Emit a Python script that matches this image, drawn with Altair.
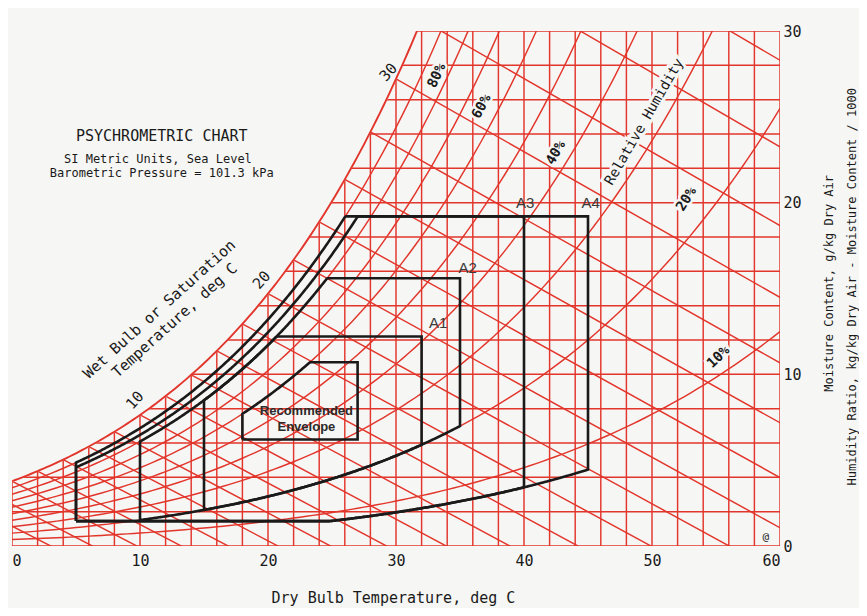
import numpy as np
import pandas as pd
import altair as alt

# ---------------- data ----------------
P_ATM = 101.325  # kPa, sea level
# saturation vapour pressure table (kPa) used by the chart
sat_temp = [-4, -2, 0, 2, 4, 6, 8, 10, 12, 14, 16, 18, 20, 22, 24, 26, 28, 30,
            32, 34, 36, 38, 40, 42, 44, 46, 48, 50, 52, 54, 56, 58, 60]
sat_kpa = [0.4375, 0.5177, 0.6112, 0.7060, 0.8135, 0.9353, 1.0730, 1.2282,
           1.4028, 1.5989, 1.8188, 2.0647, 2.3392, 2.6452, 2.9856, 3.3637,
           3.7828, 4.2467, 4.7592, 5.3247, 5.9479, 6.6335, 7.3844, 8.2090,
           9.1118, 10.099, 11.177, 12.352, 13.631, 15.022, 16.533, 18.171, 19.946]

rh_levels = [0.1, 0.2, 0.3, 0.4, 0.5, 0.6, 0.7, 0.8, 0.9]
wb_temps = [-4, -2, 0, 2, 4, 6, 8, 10, 12, 14, 16, 18, 20, 22, 24, 26, 28, 30, 32, 34, 36]
vert_temps = list(range(0, 61, 2))
horiz_w = list(range(0, 31, 2))
x_ticks = [0, 10, 20, 30, 40, 50, 60]
y_ticks = [0, 10, 20, 30]

# envelopes: name, Tmin, Tmax, RH low, RH high, W low, W high
env_names = ["A1", "A2", "A3", "A4", "Rec"]
env_tmin = [15, 10, 5, 5, 18]
env_tmax = [32, 35, 40, 45, 27]
env_rh_lo = [0.20, 0.20, 0.075, 0.075, 0.0]
env_rh_hi = [0.80, 0.80, 0.85, 0.90, 0.60]
env_w_lo = [0.0, 0.0, 1.45, 1.45, 6.2]
env_w_hi = [12.2, 15.6, 19.2, 19.2, 10.7]

# labels
rh_lab_text = ["80%", "60%", "40%", "20%", "10%"]
rh_lab_t = [33.2, 36.7, 42.5, 52.7, 55.2]
rh_lab_w = [27.4, 25.6, 22.9, 20.2, 11.0]
rh_lab_ang = [295, 298, 300, 302, 316]

wb_lab_text = ["10", "20", "30"]
wb_lab_t = [9.6, 19.5, 29.4]
wb_lab_w = [8.5, 15.5, 27.6]

cls_lab_text = ["A1", "A2", "A3", "A4"]
cls_lab_t = [33.3, 35.6, 40.1, 45.2]
cls_lab_w = [13.0, 16.2, 20.0, 20.0]
rec_lab_text = ["Recommended", "Envelope"]
rec_lab_t = [23.0, 23.0]
rec_lab_w = [7.85, 6.95]

FONT = "DejaVu Sans Mono"
RED = "#e2352b"
BLACK = "#1a1a1a"
BG = "#f6f6f4"

# ---------------- helpers ----------------
def p_ws(t):
    return np.exp(np.interp(t, sat_temp, np.log(sat_kpa)))

def w_rh(t, phi):
    p = phi * p_ws(t)
    return 622.0 * p / (P_ATM - p)

def w_wb(t, twb):
    ws = w_rh(twb, 1.0)
    return ((2501 - 2.326 * twb) * ws - 1006 * (t - twb)) / (2501 + 1.86 * t - 4.186 * twb)

# grid
vdf = pd.DataFrame({"t": vert_temps, "t2": vert_temps,
                    "w": [0] * len(vert_temps), "w2": [30] * len(vert_temps)})
hdf = pd.DataFrame({"t": [0] * len(horiz_w), "t2": [60] * len(horiz_w),
                    "w": horiz_w, "w2": horiz_w})
wbdf = pd.DataFrame({"t": wb_temps, "t2": [62] * len(wb_temps),
                     "w": [w_rh(tw, 1.0) for tw in wb_temps],
                     "w2": [w_wb(62, tw) for tw in wb_temps]})

ts = np.arange(0, 60.01, 0.5)
rows = []
for phi in rh_levels:
    for i, t in enumerate(ts):
        w = w_rh(t, phi)
        rows.append({"phi": phi, "i": i, "t": t, "w": w})
        if w > 30:
            break
rhdf = pd.DataFrame(rows)

tsat = np.arange(0, 32.01, 0.25)
satdf = pd.DataFrame({"t": tsat, "w": w_rh(tsat, 1.0), "i": range(len(tsat))})
satdf["top"] = 31.0

erows = []
for n, a, b, rl, rhh, wl, wh in zip(env_names, env_tmin, env_tmax, env_rh_lo,
                                   env_rh_hi, env_w_lo, env_w_hi):
    tt = np.linspace(a, b, int(round((b - a) / 0.1)) + 1)
    low = np.maximum(wl, w_rh(tt, rl))
    high = np.minimum(wh, w_rh(tt, rhh))
    pts = list(zip(tt, low)) + list(zip(tt[::-1], high[::-1])) + [(tt[0], low[0])]
    for k, (t, w) in enumerate(pts):
        erows.append({"env": n, "k": k, "t": t, "w": w})
envdf = pd.DataFrame(erows)

# ---------------- encodings ----------------
def X(field="t"):
    return alt.X(f"{field}:Q", scale=alt.Scale(domain=[0, 60], nice=False, zero=False),
                 axis=alt.Axis(values=x_ticks, grid=False, domain=False, ticks=False,
                               tickSize=0, labelPadding=7, labelFontSize=15,
                               labelFont=FONT, labelColor="#1a1a1a", title=None))

def Y(field="w", stack=False):
    kw = {"stack": None} if stack else {}
    return alt.Y(f"{field}:Q", scale=alt.Scale(domain=[0, 30], nice=False, zero=False),
                 axis=alt.Axis(orient="right", values=y_ticks, grid=False, domain=False,
                               ticks=False, tickSize=0, labelPadding=3, labelFontSize=15,
                               labelFont=FONT, labelColor="#1a1a1a", title=None), **kw)

LW = 1.45
vlines = alt.Chart(vdf).mark_rule(color=RED, strokeWidth=LW, clip=True).encode(
    x=X(), x2="t2:Q", y=Y(), y2="w2:Q")
hlines = alt.Chart(hdf).mark_rule(color=RED, strokeWidth=LW, clip=True).encode(
    x=X(), x2="t2:Q", y=Y(), y2="w2:Q")
wblines = alt.Chart(wbdf).mark_rule(color=RED, strokeWidth=LW, clip=True).encode(
    x=X(), x2="t2:Q", y=Y(), y2="w2:Q")
rhlines = alt.Chart(rhdf).mark_line(color=RED, strokeWidth=LW, clip=True).encode(
    x=X(), y=Y(), detail="phi:N", order="i:Q")
mask = alt.Chart(satdf).mark_area(fill=BG, fillOpacity=1, opacity=1, clip=True,
                                  orient="vertical", stroke=BG, strokeWidth=1.5).encode(
    x=X(), y=Y(stack=True), y2="top:Q")
satline = alt.Chart(satdf).mark_line(color=RED, strokeWidth=1.9, clip=True).encode(
    x=X(), y=Y(), order="i:Q")
envlines = alt.Chart(envdf).mark_line(color=BLACK, strokeWidth=2.6, strokeJoin="miter").encode(
    x=X(), y=Y(), detail="env:N", order="k:Q")

rhlab = pd.DataFrame({"t": rh_lab_t, "w": rh_lab_w, "txt": rh_lab_text, "ang": rh_lab_ang})
rh_halo = alt.Chart(rhlab).mark_text(font=FONT, fontSize=14, fontWeight="bold", color=BG,
                                     stroke=BG, strokeWidth=5).encode(
    x=X(), y=Y(), text="txt:N", angle=alt.Angle("ang:Q", scale=None))
rh_text = alt.Chart(rhlab).mark_text(font=FONT, fontSize=14, fontWeight="bold",
                                     color="#1a1a1a").encode(
    x=X(), y=Y(), text="txt:N", angle=alt.Angle("ang:Q", scale=None))

relhum = pd.DataFrame({"t": [49.4], "w": [24.7], "txt": ["Relative Humidity"]})
relhum_halo = alt.Chart(relhum).mark_text(font=FONT, fontSize=14, angle=300, color=BG,
                                          stroke=BG, strokeWidth=6).encode(
    x=X(), y=Y(), text="txt:N")
relhum_text = alt.Chart(relhum).mark_text(font=FONT, fontSize=14, angle=300,
                                          color="#1a1a1a").encode(
    x=X(), y=Y(), text="txt:N")

wblab = pd.DataFrame({"t": wb_lab_t, "w": wb_lab_w, "txt": wb_lab_text})
wb_text = alt.Chart(wblab).mark_text(font=FONT, fontSize=15, angle=312,
                                     color="#1a1a1a").encode(
    x=X(), y=Y(), text="txt:N")

clslab = pd.DataFrame({"t": cls_lab_t, "w": cls_lab_w, "txt": cls_lab_text})
cls_text = alt.Chart(clslab).mark_text(font="Liberation Sans", fontSize=15,
                                       color="#3a3a3a").encode(
    x=X(), y=Y(), text="txt:N")
reclab = pd.DataFrame({"t": rec_lab_t, "w": rec_lab_w, "txt": rec_lab_text})
rec_text = alt.Chart(reclab).mark_text(font="Liberation Sans", fontSize=13,
                                       fontWeight="bold", color="#2a2a2a").encode(
    x=X(), y=Y(), text="txt:N")

titles = pd.DataFrame({
    "t": [11.7, 11.4, 11.7, 11.5, 12.7, 29.8, 63.8, 65.6, 58.9],
    "w": [23.9, 22.55, 21.75, 13.8, 13.15, -3.05, 15.3, 15.1, 0.55],
    "txt": ["PSYCHROMETRIC CHART", "SI Metric Units, Sea Level",
            "Barometric Pressure = 101.3 kPa", "Wet Bulb or Saturation",
            "Temperature, deg C", "Dry Bulb Temperature, deg C",
            "Moisture Content, g/kg Dry Air",
            "Humidity Ratio, kg/kg Dry Air - Moisture Content / 1000", "@"],
    "fs": [15, 12, 12, 15, 15, 15, 12, 12, 11],
    "ang": [0, 0, 0, 318, 318, 0, 270, 270, 0],
})
title_text = alt.Chart(titles).mark_text(font=FONT, color="#1a1a1a").encode(
    x=X(), y=Y(), text="txt:N", size=alt.Size("fs:Q", scale=None),
    angle=alt.Angle("ang:Q", scale=None))

chart = alt.layer(
    vlines, hlines, wblines, rhlines, mask, satline, envlines,
    rh_halo, rh_text, relhum_halo, relhum_text, wb_text, cls_text, rec_text, title_text
).properties(
    width=768, height=515,
    autosize=alt.AutoSizeParams(type="none"),
    padding={"left": 4, "top": 23, "right": 79, "bottom": 62},
    background=BG,
).configure_view(stroke=None)

chart.save("out.html", embed_options={"renderer": "svg", "actions": False})
